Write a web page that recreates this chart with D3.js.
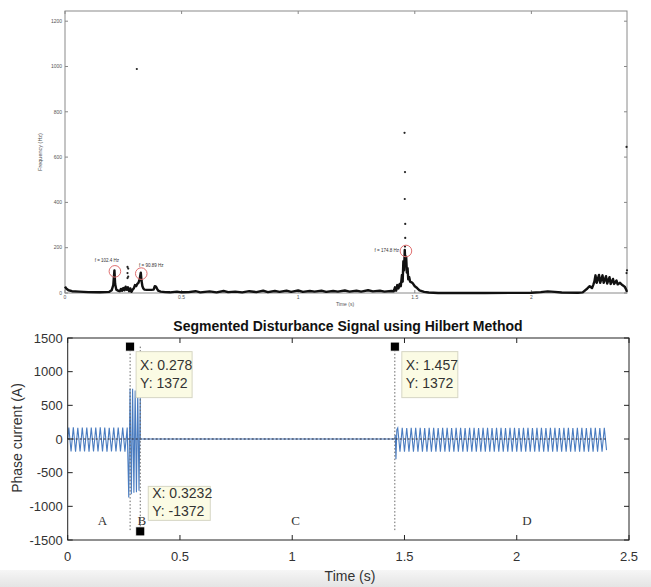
<!DOCTYPE html>
<html>
<head>
<meta charset="utf-8">
<script src="https://cdn.jsdelivr.net/npm/d3@7"></script>
<style>
  body { margin: 0; background: #fff; }
  svg { display: block; font-family: "Liberation Sans", Arial, sans-serif; }
</style>
</head>
<body>
<div id="chart"></div>
<script>
// ---- top panel data (instantaneous frequency) ----
var freqTime = [0, 0.005, 0.015, 0.03, 0.06, 0.1, 0.15, 0.19, 0.2, 0.207, 0.212, 0.215, 0.22, 0.228, 0.235,
  0.24, 0.245, 0.25, 0.255, 0.26, 0.265, 0.27, 0.275, 0.28, 0.285, 0.29, 0.295, 0.3, 0.305, 0.31, 0.315,
  0.32, 0.325, 0.328, 0.332, 0.336, 0.34, 0.35, 0.37, 0.38, 0.385, 0.39, 0.395, 0.4, 0.41, 0.43,
  0.45, 0.48, 0.5, 0.53, 0.56, 0.58, 0.62, 0.65, 0.68, 0.7, 0.73, 0.76, 0.79, 0.82, 0.85, 0.87, 0.9, 0.92,
  0.95, 0.97, 1.0, 1.02, 1.05, 1.07, 1.1, 1.12, 1.15, 1.17, 1.2, 1.22, 1.25, 1.27, 1.3, 1.32, 1.35, 1.37,
  1.4, 1.41, 1.415, 1.42, 1.425, 1.43, 1.435, 1.44, 1.445, 1.448, 1.451, 1.454, 1.457, 1.46, 1.463, 1.466,
  1.469, 1.472, 1.476, 1.48, 1.49, 1.5, 1.51, 1.52, 1.54, 1.56, 1.6, 1.8, 2.0, 2.04, 2.07, 2.1, 2.13, 2.2,
  2.22, 2.24, 2.25, 2.26, 2.265, 2.27, 2.275, 2.28, 2.29, 2.295, 2.305, 2.31, 2.32, 2.325, 2.335, 2.34,
  2.35, 2.355, 2.365, 2.37, 2.38, 2.39, 2.4, 2.405, 2.41];
var freqHz = [28, 20, 12, 8, 6, 4, 3, 5, 12, 35, 100, 40, 15, 10, 8,
  18, 10, 22, 12, 28, 14, 25, 8, 20, 5, 15, 20, 35, 30, 40, 45,
  60, 90, 55, 30, 20, 15, 14, 14, 15, 30, 28, 18, 10, 6, 4,
  3, 6, 3, 4, 8, 3, 7, 3, 9, 4, 6, 3, 8, 4, 10, 4, 9, 5,
  10, 5, 11, 5, 9, 6, 10, 5, 9, 6, 11, 6, 10, 6, 12, 7, 10, 6,
  9, 8, 25, 10, 35, 20, 40, 30, 80, 50, 140, 100, 190, 120, 160, 90,
  110, 60, 70, 50, 45, 30, 22, 12, 5, 2, 0, 0, 1, 4, 7, 5, 2, 1,
  3, 20, 30, 22, 35, 50, 78, 45, 80, 45, 78, 45, 74, 42, 70, 40,
  62, 40, 55, 38, 45, 35, 28, 18, 5];
// isolated estimate points
var dotTime = [0.268, 0.271, 0.268, 0.271, 0.268, 0.308, 1.456, 1.458, 1.457, 1.459, 1.459, 1.458, 2.408, 2.408, 2.41];
var dotHz = [115, 108, 88, 72, 66, 989, 707, 534, 415, 305, 243, 205, 645, 88, 100];
// highlighted frequencies
var markTime = [0.214, 0.327, 1.462];
var markHz = [100, 90, 190];
var markLabels = ["f = 102.4 Hz", "f = 90.89 Hz", "f = 174.8 Hz"];
var topXTicks = [0, 0.5, 1, 1.5, 2];
var topYTicks = [0, 200, 400, 600, 800, 1000, 1200];

// ---- bottom panel data (phase current, half-cycle peaks) ----
var segA = { start: 0.005, step: 0.01, peaks: [170, -185, 172, -188, 168, -186, 170, -184, 171, -187, 169, -185, 170,
  -186, 172, -184, 170, -187, 168, -185, 171, -186, 170, -184, 169, -188, 170] };
var segB = { start: 0.272, step: 0.0057, peaks: [-870, 750, -820, 745, -800, 720, -790, 700, -770, 660] };
var segD = { start: 1.47, step: 0.01, peaks: [165, -190, 166, -188, 164, -190, 165, -189, 166, -190, 165, -188,
  164, -190, 166, -189, 165, -190, 164, -188, 166, -190, 165, -189, 164, -190, 166, -188, 165, -190,
  164, -189, 166, -190, 165, -188, 164, -190, 166, -189, 165, -190, 164, -188, 166, -190, 165, -189,
  164, -190, 166, -188, 165, -190, 164, -189, 166, -190, 165, -188, 164, -190, 166, -189, 165, -190,
  164, -188, 166, -190, 165, -189, 164, -190, 166, -188, 165, -190, 164, -189, 166, -190, 165, -188,
  164, -190, 166, -189, 165, -190, 164, -188, 166, -165] };
// transient at the start of D and the zero stretch
var joinTime = [0, 0.3232, 1.457, 1.459, 1.462, 1.466];
var joinVal = [0, 0, 0, 60, -300, 140];
var tipX = [0.278, 0.3232, 1.457];
var tipY = [1372, -1372, 1372];
var segLetters = ["A", "B", "C", "D"];
var segLetterX = [0.155, 0.33, 1.015, 2.045];
var botXTicks = [0, 0.5, 1, 1.5, 2, 2.5];
var botYTicks = [-1500, -1000, -500, 0, 500, 1000, 1500];

var svgWidth = 651;
var svgHeight = 587;

var svg = d3.select("#chart")
  .append("svg")
  .attr("width", svgWidth)
  .attr("height", svgHeight);

// light grey band at the very bottom (screen capture)
var grad = svg.append("defs").append("linearGradient")
  .attr("id", "band").attr("x1", 0).attr("y1", 0).attr("x2", 0).attr("y2", 1);
grad.append("stop").attr("offset", "0%").attr("stop-color", "#f6f6f6");
grad.append("stop").attr("offset", "100%").attr("stop-color", "#e4e4e4");
svg.append("rect").attr("x", 0).attr("y", 570).attr("width", svgWidth).attr("height", 17)
  .attr("fill", "url(#band)");

// ================= top panel =================
var xTop = d3.scaleLinear().domain([0, 2.41]).range([65, 627]);
var yTop = d3.scaleLinear().domain([0, 1245]).range([293, 11]);

var topG = svg.append("g");

topG.append("rect")
  .attr("x", xTop(0)).attr("y", yTop(1245))
  .attr("width", xTop(2.41) - xTop(0)).attr("height", yTop(0) - yTop(1245))
  .attr("fill", "none").attr("stroke", "#8a8a8a").attr("stroke-width", 1);

// ticks (inward, all four sides)
topXTicks.forEach(function(t) {
  topG.append("line").attr("x1", xTop(t)).attr("x2", xTop(t)).attr("y1", yTop(0)).attr("y2", yTop(0) - 3)
    .attr("stroke", "#888");
  topG.append("line").attr("x1", xTop(t)).attr("x2", xTop(t)).attr("y1", yTop(1245)).attr("y2", yTop(1245) + 3)
    .attr("stroke", "#888");
  topG.append("text").attr("x", xTop(t)).attr("y", yTop(0) + 6).attr("text-anchor", "middle")
    .attr("font-size", "5px").attr("fill", "#555").text(t);
});
topYTicks.forEach(function(v) {
  topG.append("line").attr("x1", xTop(0)).attr("x2", xTop(0) + 3).attr("y1", yTop(v)).attr("y2", yTop(v))
    .attr("stroke", "#888");
  topG.append("line").attr("x1", xTop(2.41)).attr("x2", xTop(2.41) - 3).attr("y1", yTop(v)).attr("y2", yTop(v))
    .attr("stroke", "#888");
  topG.append("text").attr("x", xTop(0) - 3).attr("y", yTop(v) + 1.8).attr("text-anchor", "end")
    .attr("font-size", "5px").attr("fill", "#555").text(v);
});
topG.append("text").attr("x", 345).attr("y", 306).attr("text-anchor", "middle")
  .attr("font-size", "5px").attr("fill", "#555").text("Time (s)");
topG.append("text").attr("transform", "translate(42, 152) rotate(-90)").attr("text-anchor", "middle")
  .attr("font-size", "5.5px").attr("fill", "#555").text("Frequency (Hz)");

var freqLine = d3.line()
  .x(function(d, i) { return xTop(freqTime[i]); })
  .y(function(d) { return yTop(d); });

topG.append("path")
  .attr("d", freqLine(freqHz))
  .attr("fill", "none").attr("stroke", "#111").attr("stroke-width", 2.4)
  .attr("stroke-linejoin", "round");

topG.selectAll("circle.dot")
  .data(dotHz).enter().append("circle")
  .attr("class", "dot")
  .attr("cx", function(d, i) { return xTop(dotTime[i]); })
  .attr("cy", function(d) { return yTop(d); })
  .attr("r", 1.1).attr("fill", "#222");

topG.selectAll("circle.mark")
  .data(markHz).enter().append("circle")
  .attr("class", "mark")
  .attr("cx", function(d, i) { return xTop(markTime[i]); })
  .attr("cy", function(d) { return yTop(d) + 1; })
  .attr("r", 5.8).attr("fill", "none").attr("stroke", "#e07070").attr("stroke-width", 1);

var labelOff = [[-8, -8, "middle"], [10, -6, "middle"], [-7, 2, "end"]];
topG.selectAll("text.mark")
  .data(markLabels).enter().append("text")
  .attr("class", "mark")
  .attr("x", function(d, i) { return xTop(markTime[i]) + labelOff[i][0]; })
  .attr("y", function(d, i) { return yTop(markHz[i]) + labelOff[i][1]; })
  .attr("text-anchor", function(d, i) { return labelOff[i][2]; })
  .attr("font-size", "4.5px").attr("fill", "#333")
  .text(function(d) { return d; });

// ================= bottom panel =================
var xBot = d3.scaleLinear().domain([0, 2.5]).range([67.7, 629]);
var yBot = d3.scaleLinear().domain([-1500, 1500]).range([540, 338]);

var bot = svg.append("g");

bot.append("text").attr("x", 348).attr("y", 331).attr("text-anchor", "middle")
  .attr("font-size", "14px").attr("font-weight", "bold").attr("fill", "#111")
  .text("Segmented Disturbance Signal using Hilbert Method");

// build the current waveform from the segment peaks
var wave = [];
joinTime.forEach(function(t, i) { if (t < 0.3) wave.push([t, joinVal[i]]); });
segA.peaks.forEach(function(v, i) { wave.push([segA.start + i * segA.step, v]); });
segB.peaks.forEach(function(v, i) { wave.push([segB.start + i * segB.step, v]); });
joinTime.forEach(function(t, i) { if (t > 0.3) wave.push([t, joinVal[i]]); });
segD.peaks.forEach(function(v, i) { wave.push([segD.start + i * segD.step, v]); });

var waveLine = d3.line()
  .x(function(d) { return xBot(d[0]); })
  .y(function(d) { return yBot(d[1]); });

bot.append("path")
  .attr("d", waveLine(wave))
  .attr("fill", "none").attr("stroke", "#4a7cc0").attr("stroke-width", 1.1);

// dashed zero reference
bot.append("line")
  .attr("x1", xBot(0)).attr("x2", xBot(2.4)).attr("y1", yBot(0)).attr("y2", yBot(0))
  .attr("stroke", "#223").attr("stroke-width", 1).attr("stroke-dasharray", "2,2");

// segment boundaries
tipX.forEach(function(t) {
  bot.append("line")
    .attr("x1", xBot(t)).attr("x2", xBot(t)).attr("y1", yBot(1372)).attr("y2", yBot(-1372))
    .attr("stroke", "#666").attr("stroke-width", 1).attr("stroke-dasharray", "1.5,2");
});

// frame
bot.append("rect")
  .attr("x", xBot(0)).attr("y", yBot(1500))
  .attr("width", xBot(2.5) - xBot(0)).attr("height", yBot(-1500) - yBot(1500))
  .attr("fill", "none").attr("stroke", "#222").attr("stroke-width", 1);

botXTicks.forEach(function(t) {
  bot.append("line").attr("x1", xBot(t)).attr("x2", xBot(t)).attr("y1", yBot(-1500)).attr("y2", yBot(-1500) - 5)
    .attr("stroke", "#222");
  bot.append("line").attr("x1", xBot(t)).attr("x2", xBot(t)).attr("y1", yBot(1500)).attr("y2", yBot(1500) + 5)
    .attr("stroke", "#222");
  bot.append("text").attr("x", xBot(t)).attr("y", yBot(-1500) + 21).attr("text-anchor", "middle")
    .attr("font-size", "13px").attr("fill", "#333").text(t);
});
botYTicks.forEach(function(v) {
  bot.append("line").attr("x1", xBot(0)).attr("x2", xBot(0) + 5).attr("y1", yBot(v)).attr("y2", yBot(v))
    .attr("stroke", "#222");
  bot.append("line").attr("x1", xBot(2.5)).attr("x2", xBot(2.5) - 5).attr("y1", yBot(v)).attr("y2", yBot(v))
    .attr("stroke", "#222");
  bot.append("text").attr("x", xBot(0) - 5).attr("y", yBot(v) + 4.5).attr("text-anchor", "end")
    .attr("font-size", "13px").attr("fill", "#333").text(v);
});

bot.append("text").attr("x", 350).attr("y", 581).attr("text-anchor", "middle")
  .attr("font-size", "14px").attr("fill", "#333").text("Time (s)");
bot.append("text").attr("transform", "translate(22, 438) rotate(-90)").attr("text-anchor", "middle")
  .attr("font-size", "14px").attr("fill", "#333").text("Phase current (A)");

// segment letters
bot.selectAll("text.seg")
  .data(segLetters).enter().append("text")
  .attr("class", "seg")
  .attr("x", function(d, i) { return xBot(segLetterX[i]); })
  .attr("y", yBot(-1270))
  .attr("text-anchor", "middle")
  .attr("font-family", "'Liberation Serif', 'Times New Roman', serif")
  .attr("font-size", "13px").attr("fill", "#333")
  .text(function(d) { return d; });

// data tips
var tipBox = [[6, 5, 56, 46], [8, -45, 62, 34], [7, 5, 56, 46]];
tipX.forEach(function(t, i) {
  var px = xBot(t), py = yBot(tipY[i]);
  var b = tipBox[i];
  var g = bot.append("g");
  g.append("rect")
    .attr("x", px + b[0]).attr("y", py + b[1]).attr("width", b[2]).attr("height", b[3])
    .attr("fill", "#fbfbe4").attr("stroke", "#d6d6c4").attr("stroke-width", 1);
  var ty = py + b[1] + (b[3] - 36) / 2;
  g.append("text").attr("x", px + b[0] + 4).attr("y", ty + 13)
    .attr("font-size", "14px").attr("fill", "#333").text("X: " + t);
  g.append("text").attr("x", px + b[0] + 4).attr("y", ty + 31)
    .attr("font-size", "14px").attr("fill", "#333").text("Y: " + tipY[i]);
  g.append("rect")
    .attr("x", px - 4.5).attr("y", py - 4.5).attr("width", 9).attr("height", 9)
    .attr("fill", "#000").attr("stroke", "#fff").attr("stroke-width", 0.8);
});
</script>
</body>
</html>
